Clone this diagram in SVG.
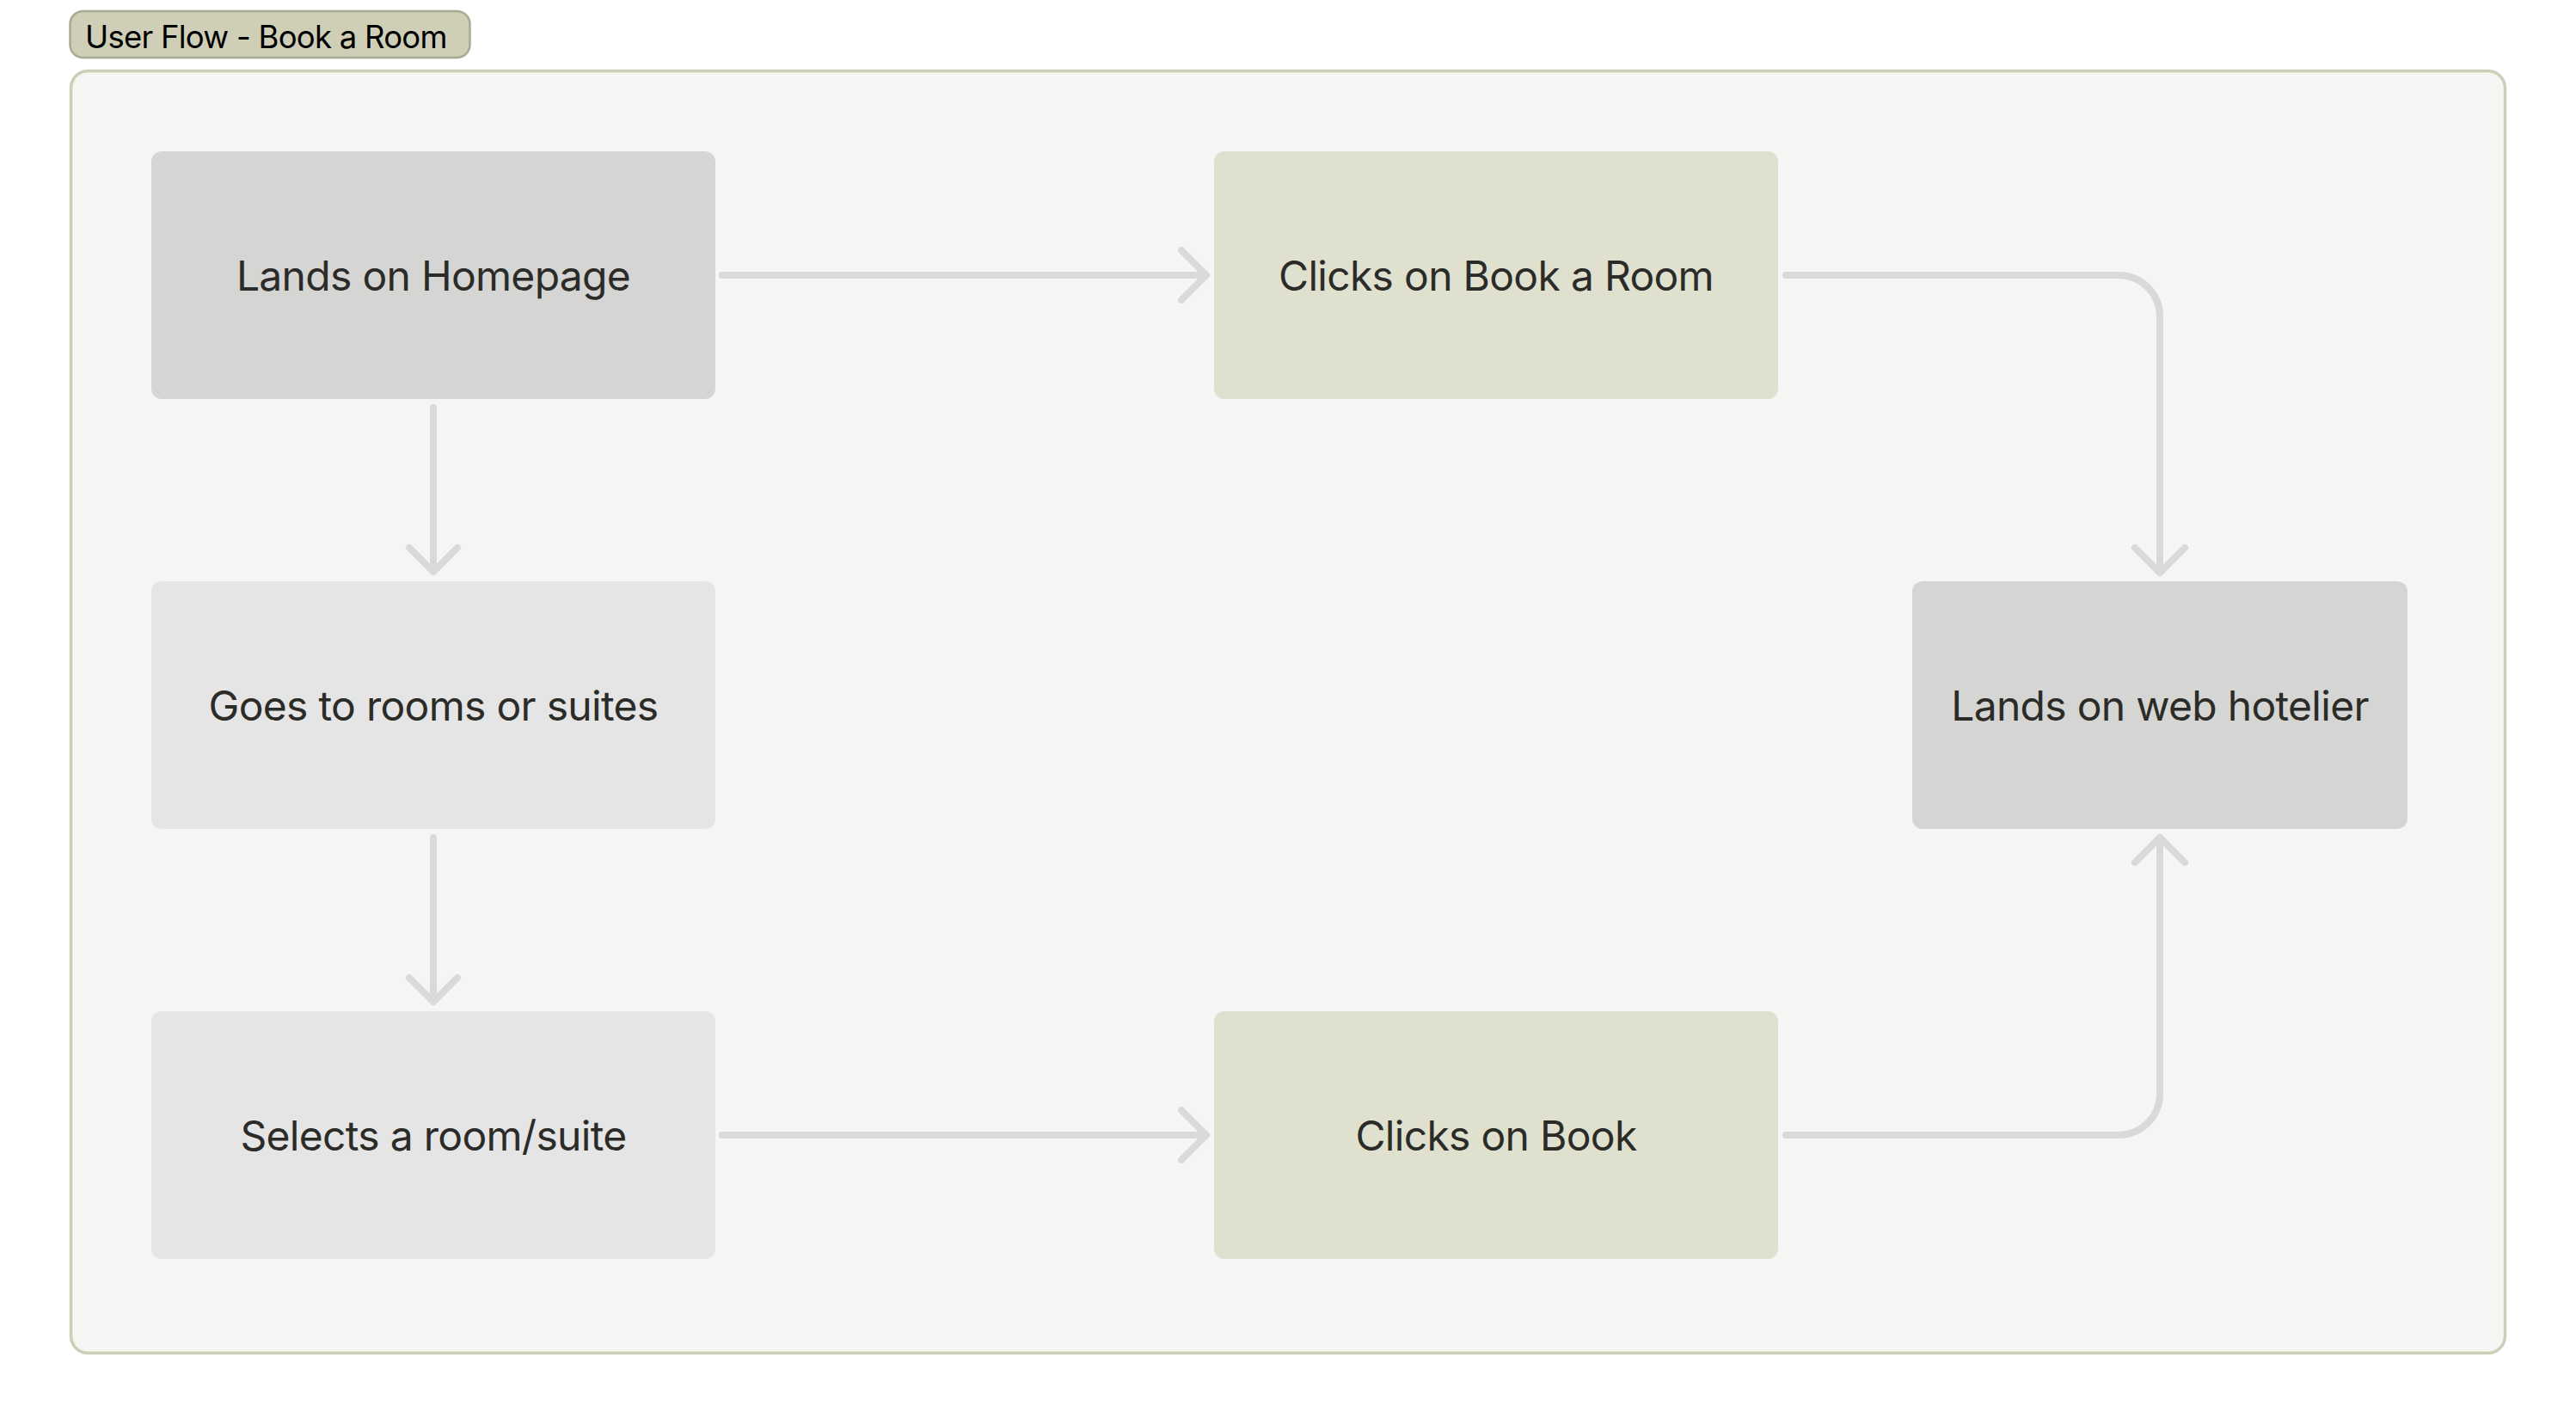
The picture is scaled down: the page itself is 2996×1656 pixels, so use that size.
<svg xmlns="http://www.w3.org/2000/svg" width="2996" height="1656" viewBox="0 0 2996 1656">
<style>
  .frame { fill: #f5f5f3; stroke: #cdceb7; stroke-width: 3.5; }
  .pill { fill: #cfcfb8; stroke: #a9aa94; stroke-width: 2.5; }
  .pilltext { font-family: Inter, "Liberation Sans", sans-serif; font-size: 36.5px; letter-spacing: -0.75px; fill: #000000; }
  .grey { fill: #d5d5d3; }
  .light { fill: #e5e5e5; }
  .green { fill: #dfe1ce; }
  .label { font-family: Inter, "Liberation Sans", sans-serif; font-size: 48px; letter-spacing: -0.7px; fill: #2b2b28; text-anchor: middle; }
  .conn { fill: none; stroke: #d9d9d9; stroke-width: 8; stroke-linecap: round; stroke-linejoin: round; }
</style>
<rect x="0" y="0" width="2996" height="1656" fill="#ffffff"/>
<g id="frame">
  <rect class="frame" x="82.5" y="82.5" width="2831" height="1491" rx="20"/>
</g>
<g id="title">
  <rect class="pill" x="81.5" y="13" width="465" height="54" rx="15"/>
  <text class="pilltext" x="99" y="56">User Flow - Book a Room</text>
</g>
<g id="connectors">
  <path class="conn" d="M840 320 H1403 M1374 291 L1403 320 L1374 349"/>
  <path class="conn" d="M2077 320 H2464 A48 48 0 0 1 2512 368 V666 M2483 637 L2512 666 L2541 637"/>
  <path class="conn" d="M504 474 V665 M476 637 L504 665 L532 637"/>
  <path class="conn" d="M504 974 V1165 M476 1137 L504 1165 L532 1137"/>
  <path class="conn" d="M840 1320 H1403 M1374 1291 L1403 1320 L1374 1349"/>
  <path class="conn" d="M2077 1320 H2464 A48 48 0 0 0 2512 1272 V974 M2483 1003 L2512 974 L2541 1003"/>
</g>
<g id="node-homepage">
  <rect class="grey" x="176" y="176" width="656" height="288" rx="12"/>
  <text class="label" x="504" y="338">Lands on Homepage</text>
</g>
<g id="node-rooms">
  <rect class="light" x="176" y="676" width="656" height="288" rx="12"/>
  <text class="label" x="504" y="838">Goes to rooms or suites</text>
</g>
<g id="node-select">
  <rect class="light" x="176" y="1176" width="656" height="288" rx="12"/>
  <text class="label" x="504" y="1338">Selects a room/suite</text>
</g>
<g id="node-bookroom">
  <rect class="green" x="1412" y="176" width="656" height="288" rx="12"/>
  <text class="label" x="1740" y="338">Clicks on Book a Room</text>
</g>
<g id="node-book">
  <rect class="green" x="1412" y="1176" width="656" height="288" rx="12"/>
  <text class="label" x="1740" y="1338">Clicks on Book</text>
</g>
<g id="node-hotelier">
  <rect class="grey" x="2224" y="676" width="576" height="288" rx="12"/>
  <text class="label" x="2512" y="838">Lands on web hotelier</text>
</g>
</svg>
